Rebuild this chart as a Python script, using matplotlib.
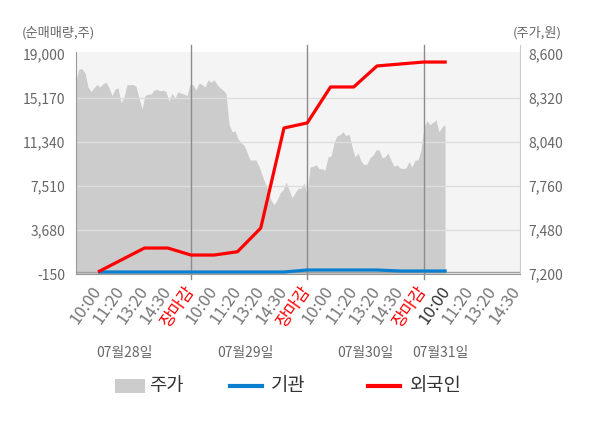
import numpy as np
import matplotlib
matplotlib.use('Agg')
import matplotlib.pyplot as plt
from matplotlib.patches import Rectangle
from matplotlib.lines import Line2D

plt.rcParams['font.family'] = ['Noto Sans CJK KR', 'DejaVu Sans']

# ---------------- data ----------------
tick_labels = ['10:00', '11:20', '13:20', '14:30', '장마감'] * 3 + ['10:00', '11:20', '13:20', '14:30']
date_labels = ['07월28일', '07월29일', '07월30일', '07월31일']
left_ticks = [-150, 3680, 7510, 11340, 15170, 19000]
right_ticks = [7200, 7480, 7760, 8040, 8320, 8600]

# cumulative net buying (shares), one value per tick slot
foreign = [30, 1070, 2110, 2110, 1500, 1500, 1790, 3850, 12560, 13000,
           16130, 16130, 17960, 18130, 18300, 18300]
institution = [24, 24, 24, 24, 24, 24, 24, 24, 24, 198,
               198, 198, 198, 111, 111, 111]

price_day1 = [8435, 8505, 8505, 8480, 8390, 8360, 8385, 8405, 8390, 8410,
              8420, 8385, 8335, 8375, 8385, 8290, 8325, 8405, 8405, 8405,
              8395, 8320, 8250, 8335, 8345, 8345, 8370, 8375, 8365, 8370,
              8360, 8300, 8350, 8320, 8360, 8350, 8345, 8335]
price_day2 = [8405, 8405, 8370, 8415, 8405, 8390, 8435, 8420, 8435, 8405,
              8385, 8370, 8350, 8155, 8105, 8110, 8060, 8035, 8020, 7975,
              7925, 7925, 7925, 7885, 7830, 7780, 7735, 7670, 7640, 7670,
              7715, 7735, 7785, 7735, 7685, 7715, 7745, 7745, 7780]
price_day3 = [7705, 7880, 7885, 7895, 7870, 7870, 7860, 7945, 7950, 8035,
              8080, 8085, 8105, 8080, 8090, 8010, 7945, 7970, 7920, 7895,
              7900, 7940, 7955, 7990, 7990, 7940, 7945, 7970, 7925, 7885,
              7895, 7875, 7870, 7875, 7915, 7880, 7925, 7925, 7990]
price_day4 = [8135, 8175, 8150, 8165, 8180, 8105, 8135, 8150]
price = price_day1 + price_day2 + price_day3 + price_day4

# ---------------- layout ----------------
W, H = 600, 428
fig = plt.figure(figsize=(W / 100, H / 100), dpi=100)
L, R, T, B = 76, 520, 45, 274
rect = [L / W, 1 - B / H, (R - L) / W, (B - T) / H]

ax = fig.add_axes(rect)
ax2 = ax.twinx()
ax.set_zorder(2)
ax2.set_zorder(1)
ax.patch.set_visible(False)

xmin, xmax = -0.946, 18.15
ax.set_xlim(xmin, xmax)
ax.set_ylim(-150, 19784)
ax2.set_ylim(7200, 8657)

# price area (right axis)
step = 3 / 23.25
px = xmin + np.arange(len(price)) * step
ax2.axhspan(7200, 8615, color='#f4f4f4', lw=0, zorder=0)
ax2.fill_between(px, price, 7200, color='#cccccc', lw=0, zorder=1)

# grid lines
for v in left_ticks[1:-1]:
    ax.axhline(v, color='#dddddd', lw=1, zorder=1)
ax.axhline(0, color='#a0a0a0', lw=1, zorder=1)
for s in (4, 9, 14):
    ax.axvline(s, ymin=-0.02, ymax=1, color='#8c8c8c', lw=1, zorder=1.5, clip_on=False)

# lines
sx = np.arange(len(foreign))
ax.plot(sx, institution, color='#0a7fd0', lw=2.3, zorder=3, solid_capstyle='butt')
ax.plot(sx, foreign, color='#ff0000', lw=2.3, zorder=4, solid_capstyle='butt')

# spines
ax.spines['top'].set_visible(False)
ax2.spines['top'].set_visible(False)
ax2.spines['left'].set_visible(False)
ax2.spines['bottom'].set_visible(False)
ax.spines['right'].set_visible(False)
ax.spines['left'].set_color('#999999')
ax.spines['left'].set_bounds(-150, 19175)
ax.spines['bottom'].set_color('#999999')
ax2.spines['right'].set_color('#cccccc')

# ticks
ax.set_xticks(np.arange(len(tick_labels)))
ax.set_xticklabels(tick_labels, rotation=55, ha='right', va='center',
                   rotation_mode='anchor', fontsize=12)
for i, lab in enumerate(ax.get_xticklabels()):
    if tick_labels[i] == '장마감':
        lab.set_color('#ff0000')
    elif i == 15:
        lab.set_color('#333333')
    else:
        lab.set_color('#777777')
ax.tick_params(axis='x', length=0, pad=10)

ax.set_yticks(left_ticks)
ax.set_yticklabels([f'{v:,}' for v in left_ticks], fontsize=10, color='#666666')
ax.tick_params(axis='y', length=0, pad=8)
ax2.set_yticks(right_ticks)
ax2.set_yticklabels([f'{v:,}' for v in right_ticks], fontsize=10, color='#666666')
ax2.tick_params(axis='y', length=0, pad=6)

# axis titles
fig.text(22 / W, 1 - 33 / H, '(순매매량,주)', ha='left', va='center', fontsize=9.5, color='#666666')
fig.text(562 / W, 1 - 33 / H, '(주가,원)', ha='right', va='center', fontsize=9.5, color='#666666')

# date labels
for xc, d in zip([124, 245, 365, 440], date_labels):
    fig.text(xc / W, 1 - 353 / H, d, ha='center', va='center', fontsize=10, color='#666666')

# legend
ly = 1 - 386 / H
fig.patches.append(Rectangle((115 / W, 1 - 393 / H), 30 / W, 14 / H,
                             transform=fig.transFigure, color='#cccccc', lw=0))
fig.text(149 / W, ly, '주가', ha='left', va='center', fontsize=13.5, color='#333333')
fig.add_artist(Line2D([230 / W, 262 / W], [ly, ly], color='#0a7fd0', lw=3, transform=fig.transFigure))
fig.text(271 / W, ly, '기관', ha='left', va='center', fontsize=13.5, color='#333333')
fig.add_artist(Line2D([368 / W, 400 / W], [ly, ly], color='#ff0000', lw=3, transform=fig.transFigure))
fig.text(410 / W, ly, '외국인', ha='left', va='center', fontsize=13.5, color='#333333')

fig.savefig('out.png', dpi=100)
